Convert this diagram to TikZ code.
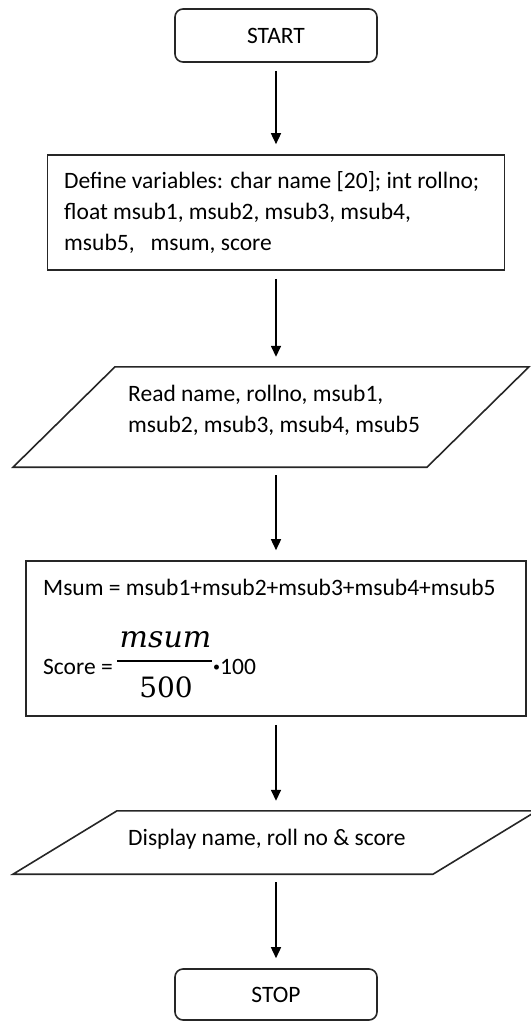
\documentclass[tikz,border=0pt]{standalone}
\usepackage{fontspec}
\setmainfont{Carlito}
\newfontfamily\fracfont{DejaVu Serif}
\usetikzlibrary{arrows.meta,calc}
\begin{document}
\begin{tikzpicture}[x=1pt,y=-1pt,
  every node/.style={font=\fontsize{23.5}{31}\selectfont},
  term/.style={draw=black!85, line width=1.6pt, rounded corners=8pt, minimum width=202pt},
  procbox/.style={draw=black!85, line width=1.6pt},
  io/.style={draw=none, minimum width=1pt, inner sep=0pt},
  flow/.style={-{Triangle[width=10pt,length=11pt]}, line width=1.5pt, shorten <=8pt, shorten >=10pt},
  txt/.style={align=left, inner sep=0pt, anchor=west}
]
\useasboundingbox (0,0) rectangle (530,1022);

% START
\node[term, minimum height=53pt] (start) at (276,35.5) {START};

% Define variables
\node[procbox, minimum width=457pt, minimum height=115pt] (def) at (276,212.5) {};
\node[txt] (deftxt) at (64,213) {Define variables: char name [20]; int rollno;\\float msub1, msub2, msub3, msub4,\\msub5,\ \ \ msum, score};

% Read
\node[io, minimum height=100pt] (read) at (276,417) {};
\draw[procbox] ($(read.north)+(-161,0)$) -- ($(read.north)+(253,0)$) -- ($(read.south)+(151,0)$) -- ($(read.south)+(-263,0)$) -- cycle;
\node[txt] (readtxt) at (128,410) {Read name, rollno, msub1,\\msub2, msub3, msub4, msub5};

% Calculation
\node[procbox, minimum width=500pt, minimum height=155pt] (calc) at (276,638.5) {};
\node[txt] (sumtxt) at (43,587) {Msum = msub1+msub2+msub3+msub4+msub5};
\node[txt] (scoretxt) at (43,667) {Score =};
\node[inner sep=0pt, anchor=base] (num) at (165.5,647) {\fontsize{30}{30}\selectfont\fracfont\itshape msum};
\draw[line width=1.5pt] (117,661) -- (212,661);
\node[inner sep=0pt, anchor=base] (den) at (166,697) {\fontsize{28}{28}\selectfont\fracfont 500};
\node[txt] (hundred) at (213,667) {\raisebox{3pt}{\fontsize{14}{14}\selectfont •}100};

% Display
\node[io, minimum height=63pt] (disp) at (276,842.5) {};
\draw[procbox] ($(disp.north)+(-159,0)$) -- ($(disp.north)+(261,0)$) -- ($(disp.south)+(157,0)$) -- ($(disp.south)+(-263,0)$) -- cycle;
\node[txt] (disptxt) at (128,839) {Display name, roll no \& score};

% STOP
\node[term, minimum height=51pt] (stop) at (276,994.5) {STOP};

% connectors
\draw[flow] (start.south) -- (def.north);
\draw[flow] (def.south) -- (read.north);
\draw[flow] (read.south) -- (calc.north);
\draw[flow] (calc.south) -- (disp.north);
\draw[flow] (disp.south) -- (stop.north);
\end{tikzpicture}
\end{document}
